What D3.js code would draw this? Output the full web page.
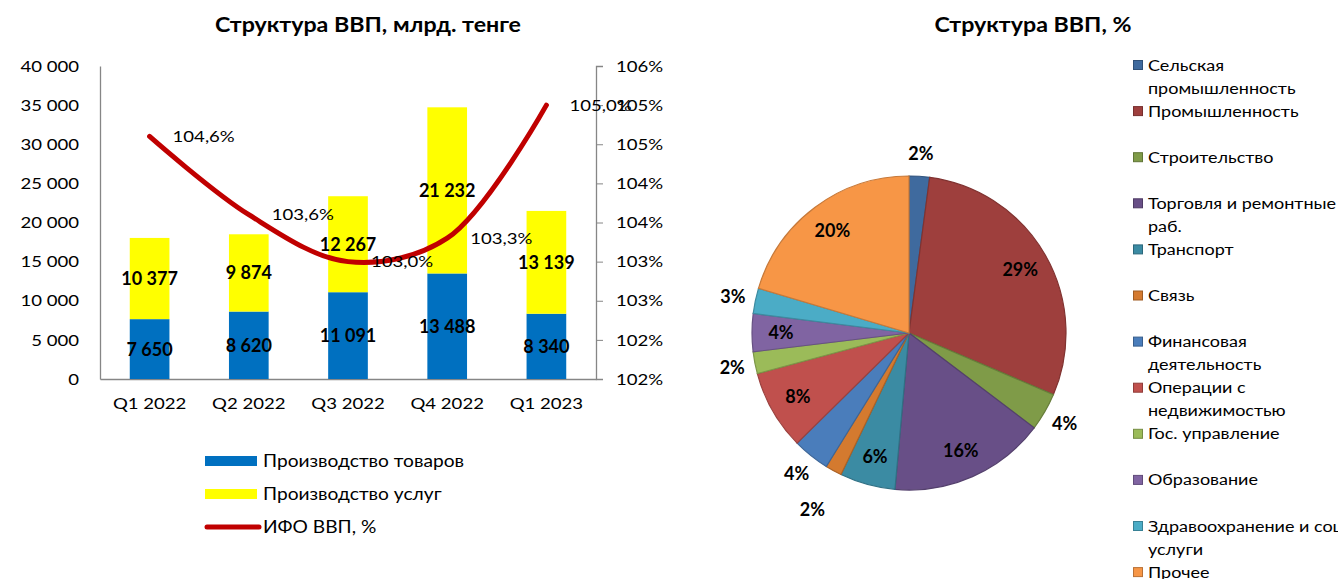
<!DOCTYPE html>
<html>
<head>
<meta charset="utf-8">
<script src="https://cdn.jsdelivr.net/npm/d3@7"></script>
<style>
  body { margin: 0; background: #fff; }
  svg { display: block; font-family: Lato, "Open Sans", sans-serif; }
</style>
</head>
<body>
<svg id="chart" width="1338" height="579"></svg>
<script>
// ── Data ──────────────────────────────────────────────────────────────────
const quarters = ["Q1 2022", "Q2 2022", "Q3 2022", "Q4 2022", "Q1 2023"];
const goods = [7650, 8620, 11091, 13488, 8340];
const services = [10377, 9874, 12267, 21232, 13139];
const ifo = [104.6, 103.6, 103.0, 103.3, 105.0];
const rightTicks = [101.5, 102, 102.5, 103, 103.5, 104, 104.5, 105, 105.5];
const rightTickLabels = ["102%", "102%", "103%", "103%", "104%", "104%", "105%", "105%", "106%"];
const seriesNames = ["Производство товаров", "Производство услуг", "ИФО ВВП, %"];

const sectors = [
  "Сельская\nпромышленность",
  "Промышленность",
  "Строительство",
  "Торговля и ремонтные\nраб.",
  "Транспорт",
  "Связь",
  "Финансовая\nдеятельность",
  "Операции с\nнедвижимостью",
  "Гос. управление",
  "Образование",
  "Здравоохранение и соц.\nуслуги",
  "Прочее",
];
const shares = [2.1, 29.3, 3.9, 16.1, 5.7, 1.7, 3.8, 8.2, 2.25, 3.9, 2.6, 20.4];
const shareLabels = ["2%", "29%", "4%", "16%", "6%", "2%", "4%", "8%", "2%", "4%", "3%", "20%"];

// ── Style ─────────────────────────────────────────────────────────────────
const BLUE = "#0070C0", YELLOW = "#FFFF00", RED = "#C00000", AXIS = "#868686";
const PIE_COLORS = [
  "#3F6A9E", "#9E3F3D", "#7F9B48", "#684F87", "#3B8BA3", "#D47A2F",
  "#4A7DBB", "#C0504D", "#9BBB59", "#8064A2", "#4BACC6", "#F79646",
];
const SX = 1.16; // the source picture is a bit wider than tall, widen regular text

const loc = d3.formatLocale({ decimal: ",", thousands: " ", grouping: [3], currency: ["", ""] });
const fmtInt = loc.format(",d");
const fmtPct = (v) => loc.format(".1f")(v) + "%";

// widen text horizontally, keeping its anchor
function stretch(sel, k = SX) {
  sel.each(function () {
    const w = this.getComputedTextLength();
    this.setAttribute("textLength", w * k);
    this.setAttribute("lengthAdjust", "spacingAndGlyphs");
  });
}

const svg = d3.select("#chart");

// ── Left chart: stacked bars + line ───────────────────────────────────────
const plot = { left: 100, right: 596, top: 66, bottom: 379 };

const x = d3.scaleBand().domain(quarters).range([plot.left, plot.right])
  .paddingInner(0.6).paddingOuter(0.3);
const y = d3.scaleLinear().domain([0, 40000]).range([plot.bottom, plot.top]);
const y2 = d3.scaleLinear().domain([101.5, 105.5]).range([plot.bottom, plot.top]);

svg.append("text")
  .attr("class", "wide")
  .attr("x", 368).attr("y", 32)
  .attr("text-anchor", "middle")
  .attr("font-size", 20).attr("font-weight", "bold")
  .text("Структура ВВП, млрд. тенге");

// axes
const gLeft = svg.append("g").attr("transform", `translate(${plot.left},0)`)
  .call(d3.axisLeft(y).tickValues(d3.range(0, 40001, 5000)).tickFormat(fmtInt)
    .tickSize(0).tickPadding(21));
const gRight = svg.append("g").attr("transform", `translate(${plot.right},0)`)
  .call(d3.axisRight(y2).tickValues(rightTicks).tickFormat((d, i) => rightTickLabels[i])
    .tickSizeOuter(0).tickSize(7).tickPadding(13));
const gBottom = svg.append("g").attr("transform", `translate(0,${plot.bottom})`)
  .call(d3.axisBottom(x).tickSize(0).tickSizeOuter(0).tickPadding(19));

[gLeft, gRight, gBottom].forEach((g) => {
  g.select(".domain").attr("stroke", AXIS).attr("stroke-width", 1.3);
  g.selectAll(".tick line").attr("stroke", AXIS);
  g.selectAll(".tick text").attr("font-size", 16).attr("fill", "#000")
    .attr("font-family", "Lato, sans-serif").classed("wide", true);
});

// stacked bars
const stackData = quarters.map((q, i) => ({ q, goods: goods[i], services: services[i] }));
const stacked = d3.stack().keys(["goods", "services"])(stackData);
const barColors = { goods: BLUE, services: YELLOW };

const layers = svg.append("g").selectAll("g").data(stacked).join("g")
  .attr("fill", (d) => barColors[d.key]);

layers.selectAll("rect").data((d) => d).join("rect")
  .attr("x", (d) => x(d.data.q))
  .attr("width", x.bandwidth())
  .attr("y", (d) => y(d[1]))
  .attr("height", (d) => y(d[0]) - y(d[1]));

layers.selectAll("text").data((d) => d).join("text")
  .attr("x", (d) => x(d.data.q) + x.bandwidth() / 2)
  .attr("y", (d) => (y(d[0]) + y(d[1])) / 2)
  .attr("dy", "0.36em")
  .attr("text-anchor", "middle")
  .attr("font-size", 18).attr("font-weight", "bold").attr("fill", "#000")
  .text((d) => fmtInt(d[1] - d[0]));

// ИФО line
const cx = (q) => x(q) + x.bandwidth() / 2;
const line = d3.line()
  .x((d, i) => cx(quarters[i]))
  .y((d) => y2(d))
  .curve(d3.curveCatmullRom.alpha(0.5));

svg.append("path")
  .datum(ifo)
  .attr("d", line)
  .attr("fill", "none")
  .attr("stroke", RED)
  .attr("stroke-width", 5)
  .attr("stroke-linecap", "round");

svg.append("g").selectAll("text").data(ifo).join("text")
  .attr("class", "wide")
  .attr("x", (d, i) => cx(quarters[i]) + 23)
  .attr("y", (d) => y2(d))
  .attr("dy", "0.36em")
  .attr("font-size", 16).attr("fill", "#000")
  .text((d) => fmtPct(d));

// legend
const leg = svg.append("g").attr("transform", "translate(205,461)");
seriesNames.forEach((name, i) => {
  const g = leg.append("g").attr("transform", `translate(0,${i * 33})`);
  if (i < 2) {
    g.append("rect").attr("x", 0).attr("y", -5).attr("width", 52).attr("height", 10)
      .attr("fill", i === 0 ? BLUE : YELLOW);
  } else {
    g.append("line").attr("x1", 2).attr("x2", 54).attr("y1", 0).attr("y2", 0)
      .attr("stroke", RED).attr("stroke-width", 5).attr("stroke-linecap", "round");
  }
  g.append("text").attr("class", "wide").attr("x", 58).attr("dy", "0.36em")
    .attr("font-size", 16.5).attr("fill", "#000").text(name);
});

// ── Right chart: pie ──────────────────────────────────────────────────────
const pieC = { x: 909, y: 333, r: 157 };

svg.append("text")
  .attr("class", "wide")
  .attr("x", 1033).attr("y", 32)
  .attr("text-anchor", "middle")
  .attr("font-size", 20).attr("font-weight", "bold")
  .text("Структура ВВП, %");

const pie = d3.pie().sort(null).value((d) => d);
const arcs = pie(shares);
const arc = d3.arc().innerRadius(0).outerRadius(pieC.r);

const gPie = svg.append("g").attr("transform", `translate(${pieC.x},${pieC.y})`);
gPie.selectAll("path").data(arcs).join("path")
  .attr("d", arc)
  .attr("fill", (d, i) => PIE_COLORS[i])
  .attr("stroke", (d, i) => d3.color(PIE_COLORS[i]).darker(0.6))
  .attr("stroke-width", 1.2);

// label placement: small slices go outside, the rest inside
const outside = new Set([0, 2, 5, 6, 8, 10]);
const labelR = (i) => (outside.has(i) ? (i === 5 ? 201 : 180) : 128);

gPie.selectAll("text").data(arcs).join("text")
  .attr("transform", (d, i) => {
    const a = (d.startAngle + d.endAngle) / 2;
    const r = labelR(i);
    return `translate(${Math.sin(a) * r},${-Math.cos(a) * r})`;
  })
  .attr("dy", "0.36em")
  .attr("text-anchor", "middle")
  .attr("font-size", 18).attr("font-weight", "bold").attr("fill", "#000")
  .text((d, i) => shareLabels[i]);

// pie legend
const pLeg = svg.append("g").attr("transform", "translate(1133,65)");
sectors.forEach((name, i) => {
  const g = pLeg.append("g").attr("transform", `translate(0,${i * 46.1})`);
  g.append("rect").attr("x", 0.5).attr("y", -4.5).attr("width", 9).attr("height", 9)
    .attr("fill", PIE_COLORS[i])
    .attr("stroke", d3.color(PIE_COLORS[i]).darker(0.8));
  name.split("\n").forEach((ln, j) => {
    g.append("text").attr("class", "wide")
      .attr("x", 15).attr("y", j * 23).attr("dy", "0.36em")
      .attr("font-size", 15.5).attr("fill", "#000").text(ln);
  });
});

stretch(svg.selectAll("text.wide"));
</script>
</body>
</html>
